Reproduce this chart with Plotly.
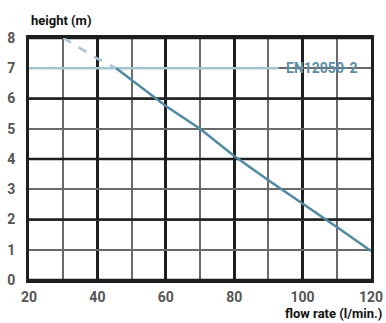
import plotly.graph_objects as go

# pump curve
dash_x = [30, 40, 45.5]
dash_y = [8.0, 7.32, 7.0]
solid_x = [45.5, 60, 70, 80, 90, 100, 110, 120]
solid_y = [7.0, 5.75, 5.0, 4.1, 3.3, 2.53, 1.75, 0.96]

# EN12050-2 reference height
en_x = [20, 93]
en_y = [7.0, 7.0]
en_label = "EN12050-2"

x_ticks = [20, 40, 60, 80, 100, 120]
y_ticks = [0, 1, 2, 3, 4, 5, 6, 7, 8]

font = "Roboto"
dark = "#1e1e1e"
thin = "#6a6a6a"

fig = go.Figure()
fig.add_trace(go.Scatter(x=en_x, y=en_y, mode="lines",
                         line=dict(color="#a6c5d3", width=2.5)))
fig.add_trace(go.Scatter(x=dash_x, y=dash_y, mode="lines",
                         line=dict(color="#a6c5d3", width=2.5, dash="dash")))
fig.add_trace(go.Scatter(x=solid_x, y=solid_y, mode="lines",
                         line=dict(color="#4f89a2", width=2.5)))

# thick horizontal lines at even heights
for v in y_ticks:
    if v % 2 == 0:
        fig.add_shape(type="line", xref="x", yref="y", x0=20, x1=120, y0=v, y1=v,
                      line=dict(color=dark, width=2.5), layer="between")

fig.add_annotation(x=en_x[1] + 1.5, y=en_y[0], text=en_label, showarrow=False,
                   xanchor="left", yanchor="middle",
                   font=dict(family=font, size=14, color="#5b8ea6", weight="bold"))
fig.add_annotation(x=0, y=1, xref="paper", yref="paper", text="height (m)",
                   showarrow=False, xanchor="left", yanchor="bottom", yshift=8,
                   font=dict(family=font, size=13, color="#111", weight="bold"))
fig.add_annotation(x=1, y=0, xref="paper", yref="paper", text="flow rate (l/min.)",
                   showarrow=False, xanchor="right", yanchor="top", xshift=13, yshift=-24,
                   font=dict(family=font, size=13, color="#111", weight="bold"))

fig.update_layout(
    width=386, height=323,
    margin=dict(l=29, r=15, t=38, b=43),
    paper_bgcolor="white", plot_bgcolor="white",
    showlegend=False,
    font=dict(family=font, size=14, color="#555", weight="bold"),
    xaxis=dict(range=[20, 120], tickvals=x_ticks, showgrid=True, automargin=False,
               gridcolor=dark, gridwidth=2.5,
               minor=dict(dtick=10, tick0=20, showgrid=True, gridcolor=thin, gridwidth=1.5),
               showline=True, mirror=True, linecolor=dark, linewidth=3,
               zeroline=False, ticks="", ticklabelstandoff=2),
    yaxis=dict(range=[0, 8], tickvals=y_ticks, showgrid=True, automargin=False,
               gridcolor=thin, gridwidth=1.5,
               showline=True, mirror=True, linecolor=dark, linewidth=3,
               zeroline=False, ticks="", ticklabelstandoff=8),
)

# drop the page's default body margin so the figure fills the window exactly
fig.write_html("out.html", config={"displayModeBar": False},
               post_script="document.body.style.margin='0';")
